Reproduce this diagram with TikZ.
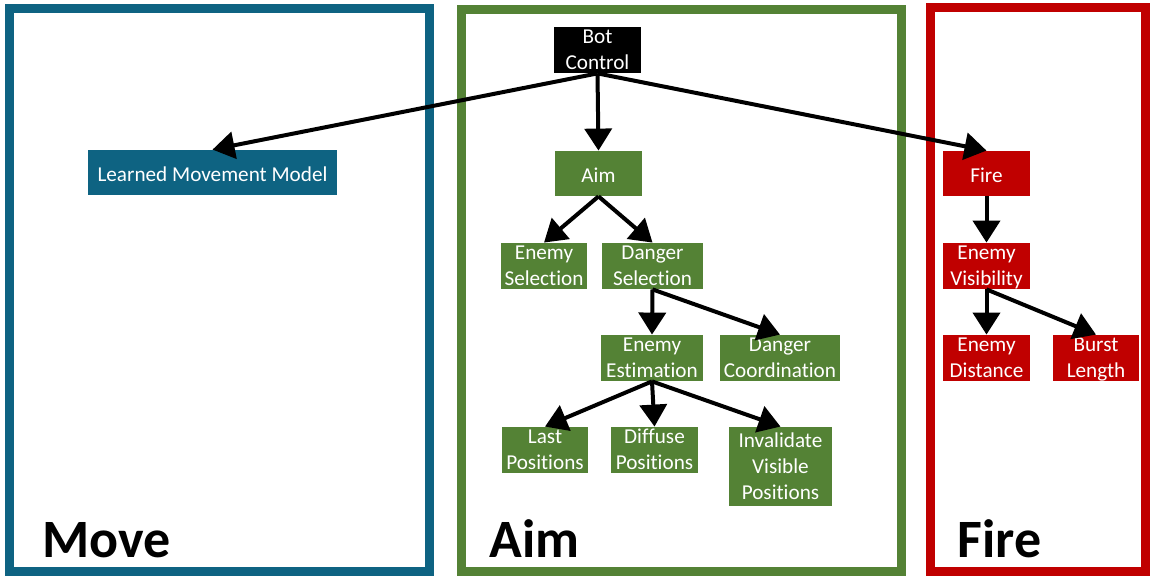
\documentclass[tikz,border=0pt]{standalone}
\usepackage{fontspec}
\setmainfont{Carlito}[Ligatures=NoCommon]
\usetikzlibrary{arrows.meta}
\definecolor{moveblue}{RGB}{14,99,130}
\definecolor{aimgreen}{RGB}{84,130,53}
\definecolor{firered}{RGB}{192,0,0}
\begin{document}
\begin{tikzpicture}[x=0.5pt,y=-0.5pt,
  frame/.style={draw, line width=4.5pt},
  box/.style={inner sep=0pt, align=center, text=white,
    font=\fontsize{10.6}{13}\selectfont, minimum height=23pt,
    execute at begin node=\rule{0pt}{9.5pt}, text depth=0.5pt},
  gbox/.style={box, fill=aimgreen},
  rbox/.style={box, fill=firered},
  title/.style={anchor=base west, inner sep=0pt,
    font=\fontsize{27}{32}\selectfont\bfseries},
  arr/.style={line width=2pt, -{Triangle[width=13.5pt,length=11pt]}}]
\useasboundingbox (0,0) rectangle (1152,576);

% section frames
\draw[frame, moveblue] (9,8.5) rectangle (429,572);
\draw[frame, aimgreen] (461,9.5) rectangle (901.5,572);
\draw[frame, firered] (930,8) rectangle (1145,572);

% section titles
\node[title] (tmove) at (42,558) {Move};
\node[title] (taim) at (489,558) {Aim};
\node[title] (tfire) at (957,558) {Fire};

% root
\node[box, fill=black, minimum width=43.5pt] (bot) at (597.5,50) {Bot\\Control};

% movement
\node[box, fill=moveblue, minimum width=124.5pt, minimum height=22.5pt] (lmm) at (212.5,172.5) {Learned Movement Model};

% aiming tree
\node[gbox, minimum width=43.5pt, minimum height=22.5pt] (aim) at (598.5,173.5) {Aim};
\node[gbox, minimum width=43pt] (esel) at (544,266) {Enemy\\Selection};
\node[gbox, minimum width=50.5pt] (dsel) at (652.5,266) {Danger\\Selection};
\node[gbox, minimum width=51pt] (eest) at (652,358) {Enemy\\Estimation};
\node[gbox, minimum width=60pt] (dcoord) at (780,358) {Danger\\Coordination};
\node[gbox, minimum width=43pt] (last) at (545,450) {Last\\Positions};
\node[gbox, minimum width=43.5pt] (diff) at (654.5,450) {Diffuse\\Positions};
\node[gbox, minimum width=51.5pt, minimum height=39.5pt] (inval) at (780.5,466.5) {Invalidate\\Visible\\Positions};

% firing tree
\node[rbox, minimum width=43.5pt, minimum height=22.5pt] (fire) at (986.5,173.5) {Fire};
\node[rbox, minimum width=43.5pt] (evis) at (986.5,266) {Enemy\\Visibility};
\node[rbox, minimum width=43.5pt] (edist) at (986.5,358) {Enemy\\Distance};
\node[rbox, minimum width=43pt] (burst) at (1096,358) {Burst\\Length};

% connectors
\draw[arr] (bot.south) -- (lmm.north);
\draw[arr] (bot.south) -- (aim.north);
\draw[arr] (bot.south) -- (fire.north);
\draw[arr] (aim.south) -- (esel.north);
\draw[arr] (aim.south) -- (dsel.north);
\draw[arr] (dsel.south) -- (eest.north);
\draw[arr] (dsel.south) -- (dcoord.north);
\draw[arr] (eest.south) -- (last.north);
\draw[arr] (eest.south) -- (diff.north);
\draw[arr] (eest.south) -- (inval.north);
\draw[arr] (fire.south) -- (evis.north);
\draw[arr] (evis.south) -- (edist.north);
\draw[arr] (evis.south) -- (burst.north);
\end{tikzpicture}
\end{document}
